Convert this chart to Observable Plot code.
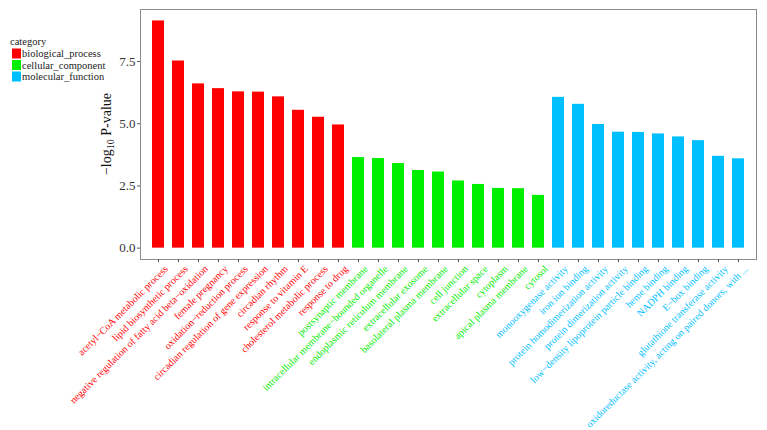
<!DOCTYPE html>
<html>
<head>
<meta charset="utf-8">
<script src="https://cdn.jsdelivr.net/npm/d3@7"></script>
<script src="https://cdn.jsdelivr.net/npm/@observablehq/plot@0.6"></script>
<style>
  body { margin: 0; background: #fff; }
</style>
</head>
<body>
<div id="chart"></div>
<script>
const categories = ["biological_process", "cellular_component", "molecular_function"];
const barColors = ["#FF0000", "#00EE00", "#00BFFF"];

const bpTerms = ["acetyl−CoA metabolic process", "lipid biosynthetic process", "negative regulation of fatty acid beta−oxidation", "female pregnancy", "oxidation−reduction process", "circadian regulation of gene expression", "circadian rhythm", "response to vitamin E", "cholesterol metabolic process", "response to drug"];
const bpValues = [9.13, 7.52, 6.60, 6.41, 6.28, 6.27, 6.08, 5.54, 5.26, 4.95];

const ccTerms = ["postsynaptic membrane", "intracellular membrane−bounded organelle", "endoplasmic reticulum membrane", "extracellular exosome", "basolateral plasma membrane", "cell junction", "extracellular space", "cytoplasm", "apical plasma membrane", "cytosol"];
const ccValues = [3.64, 3.60, 3.40, 3.12, 3.06, 2.70, 2.56, 2.40, 2.39, 2.12];

const mfTerms = ["monooxygenase activity", "iron ion binding", "protein homodimerization activity", "protein dimerization activity", "low−density lipoprotein particle binding", "heme binding", "NADPH binding", "E−box binding", "glutathione transferase activity", "oxidoreductase activity, acting on paired donors, with ..."];
const mfValues = [6.06, 5.78, 4.97, 4.66, 4.65, 4.59, 4.47, 4.32, 3.69, 3.59];

const yTicks = [0, 2.5, 5, 7.5];

const data = [
  ...bpTerms.map((t, i) => ({term: t, value: bpValues[i], cat: categories[0]})),
  ...ccTerms.map((t, i) => ({term: t, value: ccValues[i], cat: categories[1]})),
  ...mfTerms.map((t, i) => ({term: t, value: mfValues[i], cat: categories[2]}))
];
const colorOf = Object.fromEntries(categories.map((c, i) => [c, barColors[i]]));
const font = "'Liberation Serif', 'DejaVu Serif', serif";

const chart = Plot.plot({
  width: 767,
  height: 430,
  marginLeft: 140,
  marginRight: 11,
  marginTop: 9,
  marginBottom: 171,
  style: {fontFamily: font, background: "#fff"},
  x: {domain: data.map(d => d.term), paddingInner: 0.38, paddingOuter: 0.29, axis: null, label: null},
  y: {domain: [-0.456, 9.59], axis: null, label: null},
  marks: [
    Plot.barY(data, {x: "term", y: "value", fill: d => colorOf[d.cat]}),
    Plot.frame({stroke: "#8c8c8c", strokeWidth: 1}),
    Plot.axisY({ticks: yTicks, tickFormat: d3.format(".1f"), tickSize: 3, tickPadding: 2, fontSize: 13, fill: "#333", stroke: "#555", label: null}),
    Plot.axisX({tickSize: 3, tickFormat: () => "", stroke: "#555", label: null}),
    Plot.text(data, {x: "term", frameAnchor: "bottom", text: "term", rotate: -45, textAnchor: "end", lineAnchor: "top", fill: d => colorOf[d.cat], fontSize: 10, dx: 5, dy: 5})
  ]
});
document.getElementById("chart").appendChild(chart);

const svg = d3.select(chart);

// y-axis title with subscript
const yl = svg.append("text")
  .attr("transform", "translate(111,134) rotate(-90)")
  .attr("text-anchor", "middle")
  .attr("font-family", font)
  .attr("font-size", 14)
  .attr("fill", "#111");
yl.append("tspan").text("−log");
yl.append("tspan").attr("font-size", 10).attr("dy", 3).text("10");
yl.append("tspan").attr("dy", -3).text(" P-value");

// legend
const lg = svg.append("g").attr("font-family", font).attr("font-size", 10.5).attr("fill", "#222").attr("text-anchor", "start");
lg.append("text").attr("x", 10).attr("y", 45).text("category");
categories.forEach((c, i) => {
  lg.append("rect").attr("x", 12).attr("y", 48.5 + i * 11.5).attr("width", 9).attr("height", 10).attr("fill", barColors[i]);
  lg.append("text").attr("x", 22).attr("y", 57 + i * 11.5).text(c);
});
</script>
</body>
</html>
